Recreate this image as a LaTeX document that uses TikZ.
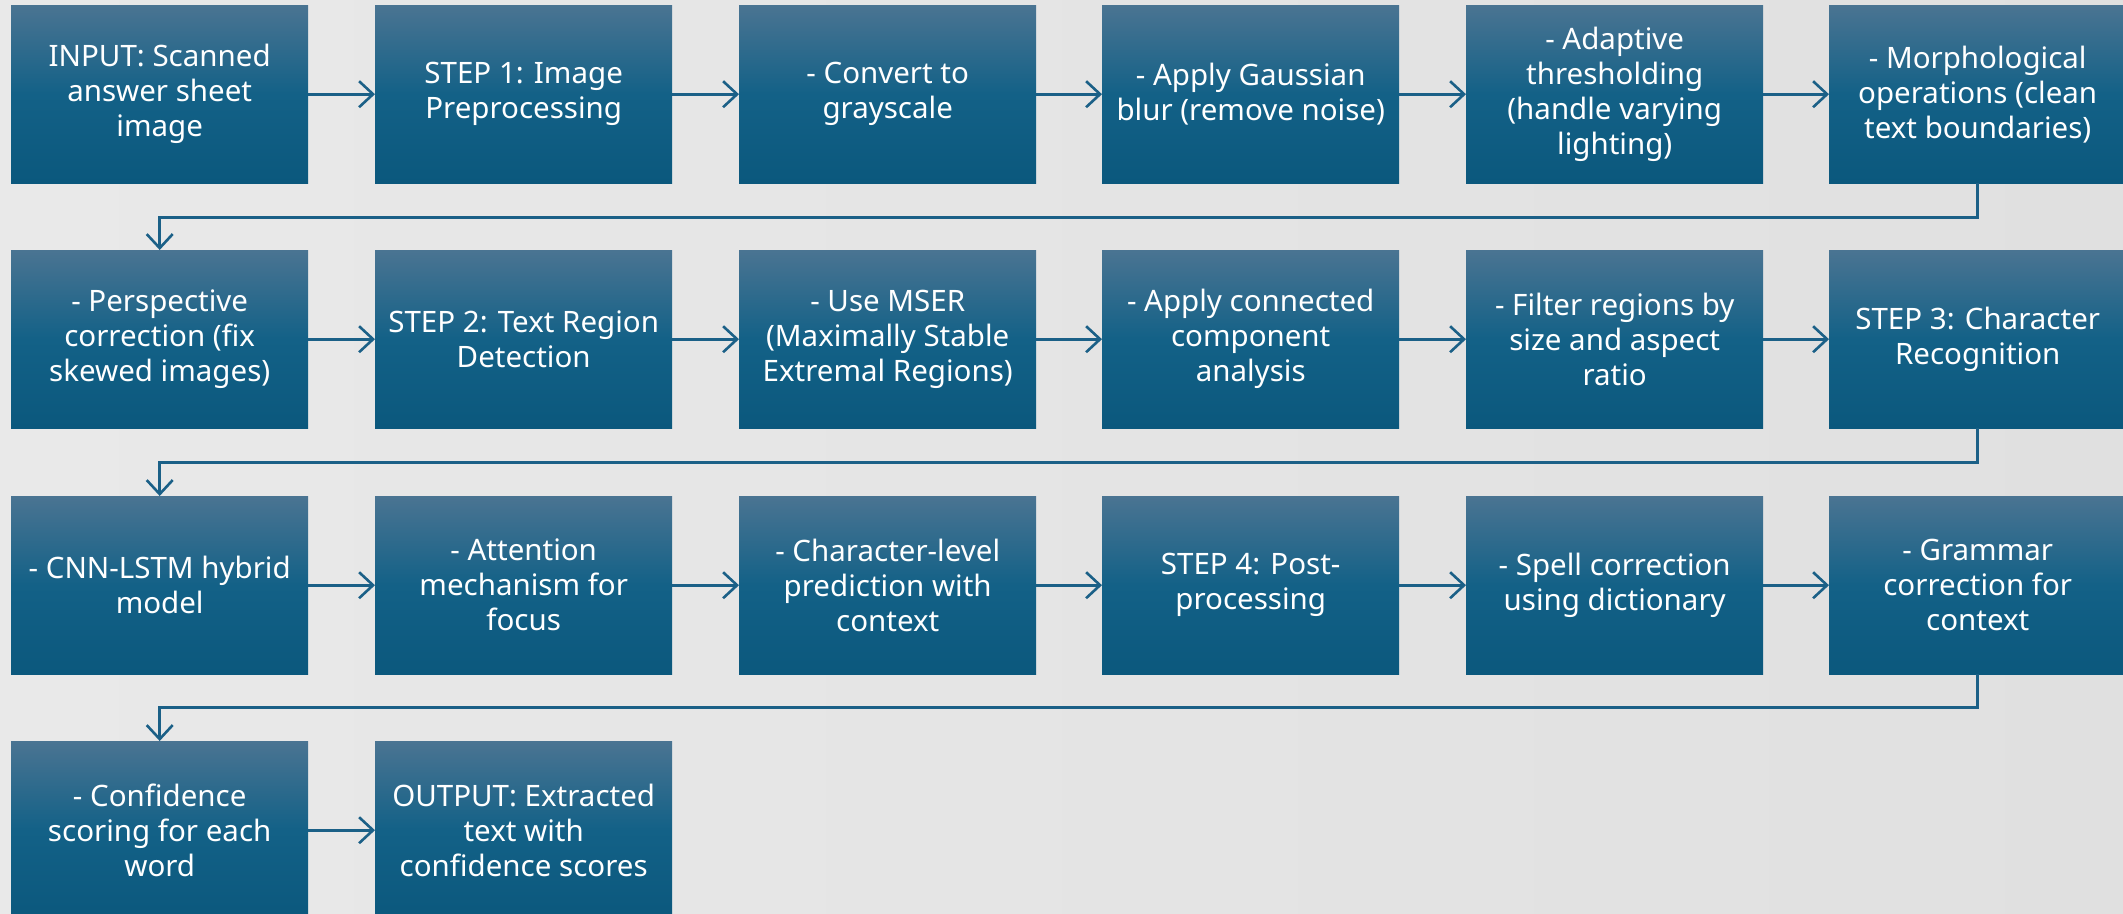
\documentclass[tikz,border=0pt]{standalone}
\usepackage{fontspec}
\setmainfont{Noto Sans}
\usetikzlibrary{arrows.meta}
\definecolor{boxtop}{HTML}{4A7492}
\definecolor{boxmid}{HTML}{136187}
\definecolor{boxbot}{HTML}{0B587D}
\definecolor{linec}{HTML}{1B6087}
\definecolor{bgl}{HTML}{E9E9E9}
\definecolor{bgr}{HTML}{E0E0E0}
\pgfdeclareverticalshading{boxshade}{100bp}{color(0bp)=(boxbot); color(25bp)=(boxbot); color(50bp)=(boxmid); color(75bp)=(boxtop); color(100bp)=(boxtop)}
\tikzset{
  stepbox/.style={rectangle, shading=boxshade, minimum width=297pt, minimum height=178pt,
    inner sep=0pt, align=center, text=white, anchor=north west,
    font=\fontsize{29.5}{35}\selectfont},
  link/.style={draw=linec, line width=2.6pt,
    -{Straight Barb[length=14pt,width=26pt,line width=2.6pt]}},
}
\begin{document}
\begin{tikzpicture}[x=1pt,y=-1pt]
\path[use as bounding box] (0,0) rectangle (2123,913);
\clip (0,0) rectangle (2123,913);
\shade[left color=bgl,right color=bgr] (0,0) rectangle (2123,913);
% row 1
\node[stepbox] (n1) at (11,5) {INPUT: Scanned\\answer sheet\\image};
\node[stepbox] (n2) at (375,5) {STEP 1: Image\\Preprocessing};
\node[stepbox] (n3) at (739,5) {- Convert to\\grayscale};
\node[stepbox] (n4) at (1102,5) {- Apply Gaussian\\blur (remove noise)};
\node[stepbox] (n5) at (1466,5) {- Adaptive\\thresholding\\(handle varying\\lighting)};
\node[stepbox] (n6) at (1829,5) {- Morphological\\operations (clean\\text boundaries)};
% row 2
\node[stepbox] (n7) at (11,250) {- Perspective\\correction (fix\\skewed images)};
\node[stepbox] (n8) at (375,250) {STEP 2: Text Region\\Detection};
\node[stepbox] (n9) at (739,250) {- Use MSER\\(Maximally Stable\\Extremal Regions)};
\node[stepbox] (n10) at (1102,250) {- Apply connected\\component\\analysis};
\node[stepbox] (n11) at (1466,250) {- Filter regions by\\size and aspect\\ratio};
\node[stepbox] (n12) at (1829,250) {STEP 3: Character\\Recognition};
% row 3
\node[stepbox] (n13) at (11,496) {- CNN-LSTM hybrid\\model};
\node[stepbox] (n14) at (375,496) {- Attention\\mechanism for\\focus};
\node[stepbox] (n15) at (739,496) {- Character-level\\prediction with\\context};
\node[stepbox] (n16) at (1102,496) {STEP 4: Post-\\processing};
\node[stepbox] (n17) at (1466,496) {- Spell correction\\using dictionary};
\node[stepbox] (n18) at (1829,496) {- Grammar\\correction for\\context};
% row 4
\node[stepbox] (n19) at (11,741) {- Confidence\\scoring for each\\word};
\node[stepbox] (n20) at (375,741) {OUTPUT: Extracted\\text with\\confidence scores};
% horizontal links
\foreach \a/\b in {n1/n2,n2/n3,n3/n4,n4/n5,n5/n6,n7/n8,n8/n9,n9/n10,n10/n11,n11/n12,n13/n14,n14/n15,n15/n16,n16/n17,n17/n18,n19/n20}
  \draw[link] (\a.east) -- (\b.west);
% row returns
\draw[link] (n6.south) -- ++(0,34) -| (n7.north);
\draw[link] (n12.south) -- ++(0,34) -| (n13.north);
\draw[link] (n18.south) -- ++(0,33) -| (n19.north);
\end{tikzpicture}
\end{document}
